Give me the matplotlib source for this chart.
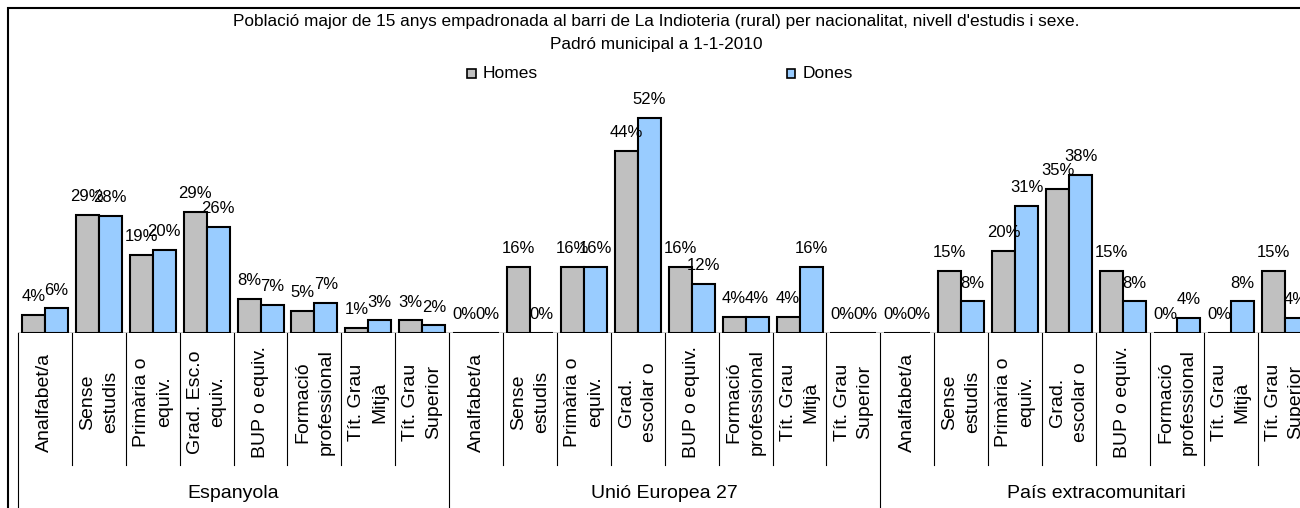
import matplotlib
matplotlib.use("Agg")
import matplotlib.pyplot as plt
import numpy as np
from matplotlib.patches import Rectangle
from matplotlib.lines import Line2D
from matplotlib.transforms import blended_transform_factory

plt.rcParams['font.family'] = ['Liberation Sans', 'DejaVu Sans']

# Dades
titol1 = "Població major de 15 anys empadronada al barri de La Indioteria (rural) per nacionalitat, nivell d'estudis i sexe."
titol2 = "Padró municipal a 1-1-2010"
series = ["Homes", "Dones"]
grups = ["Espanyola", "Unió Europea 27", "País extracomunitari"]
nivells_esp = ["Analfabet/a", "Sense\nestudis", "Primària o\nequiv.", "Grad. Esc.o\nequiv.",
               "BUP o equiv.", "Formació\nprofessional", "Tít. Grau\nMitjà", "Tít. Grau\nSuperior"]
nivells_altres = ["Analfabet/a", "Sense\nestudis", "Primària o\nequiv.", "Grad.\nescolar o",
                  "BUP o equiv.", "Formació\nprofessional", "Tít. Grau\nMitjà", "Tít. Grau\nSuperior"]
categories = nivells_esp + nivells_altres + nivells_altres

homes = [4.4, 28.6, 19.0, 29.3, 8.3, 5.4, 1.4, 3.1,
         0, 16, 16, 44, 16, 4, 4, 0,
         0, 15, 20, 35, 15, 0, 0, 15]
dones = [6.0, 28.4, 20.2, 25.7, 6.9, 7.3, 3.1, 1.9,
         0, 0, 16, 52, 12, 4, 16, 0,
         0, 7.7, 30.8, 38.4, 7.7, 3.8, 7.7, 3.8]

colors = ['#C0C0C0', '#99CCFF']

W, H = 1300, 508
fig = plt.figure(figsize=(W / 100, H / 100), dpi=100)

# zona del grafic (px): base a y=333, 24 categories de ~54 px des de x=18
base = 333.3
ax = fig.add_axes([18 / W, (H - base) / H, 1293.6 / W, 248.1 / H])
ax.set_xlim(-0.5, len(categories) - 0.5)
ax.set_ylim(0, 60)
ax.axis('off')

x = np.arange(len(categories))
w = 0.427
for vals, off, col in [(homes, -w / 2, colors[0]), (dones, w / 2, colors[1])]:
    ax.bar(x + off, vals, w, color=col, edgecolor='black', linewidth=1.5, zorder=2)
    for xi, v in zip(x + off, vals):
        ax.annotate(f"{v:.0f}%", (xi, v), xytext=(0, 10), textcoords='offset points',
                    ha='center', va='baseline', fontsize=12)

ax.axhline(0, color='black', lw=1, zorder=3)

# eix de categories en dos nivells
trans = blended_transform_factory(ax.transData, fig.transFigure)
for k, b in enumerate(np.arange(len(categories) + 1) - 0.5):
    y_end = 0 if k % 8 == 0 else (H - 465) / H
    fig.add_artist(Line2D([b, b], [(H - base) / H, y_end], transform=trans,
                          color='black', lw=0.8))

for i, lab in enumerate(categories):
    fig.text(i, (H - 402) / H, lab, transform=trans, rotation=90, ha='center', va='center',
             multialignment='center', fontsize=14, linespacing=1.45)

for g, nom in enumerate(grups):
    fig.text(g * 8 + 3.5, (H - 493) / H, nom, transform=trans, ha='center', va='center',
             fontsize=14)

# marc del grafic
fig.add_artist(Rectangle((8 / W, -0.1), 1.2, 1 - 8 / H + 0.1, transform=fig.transFigure,
                         fill=False, edgecolor='black', lw=1.5))

# titol
fig.text(656 / W, 1 - 21.7 / H, titol1, ha='center', va='center', fontsize=12.4)
fig.text(656 / W, 1 - 45 / H, titol2, ha='center', va='center', fontsize=12.4)

# llegenda
for nom, col, mx in zip(series, colors, [467, 787]):
    fig.add_artist(Rectangle((mx / W, 1 - 77.7 / H), 8.5 / W, 9 / H, transform=fig.transFigure,
                             facecolor=col, edgecolor='black', lw=1.2))
    fig.text((mx + 16) / W, 1 - 73 / H, nom, ha='left', va='center', fontsize=12.5)

fig.savefig("out.png", dpi=100)
